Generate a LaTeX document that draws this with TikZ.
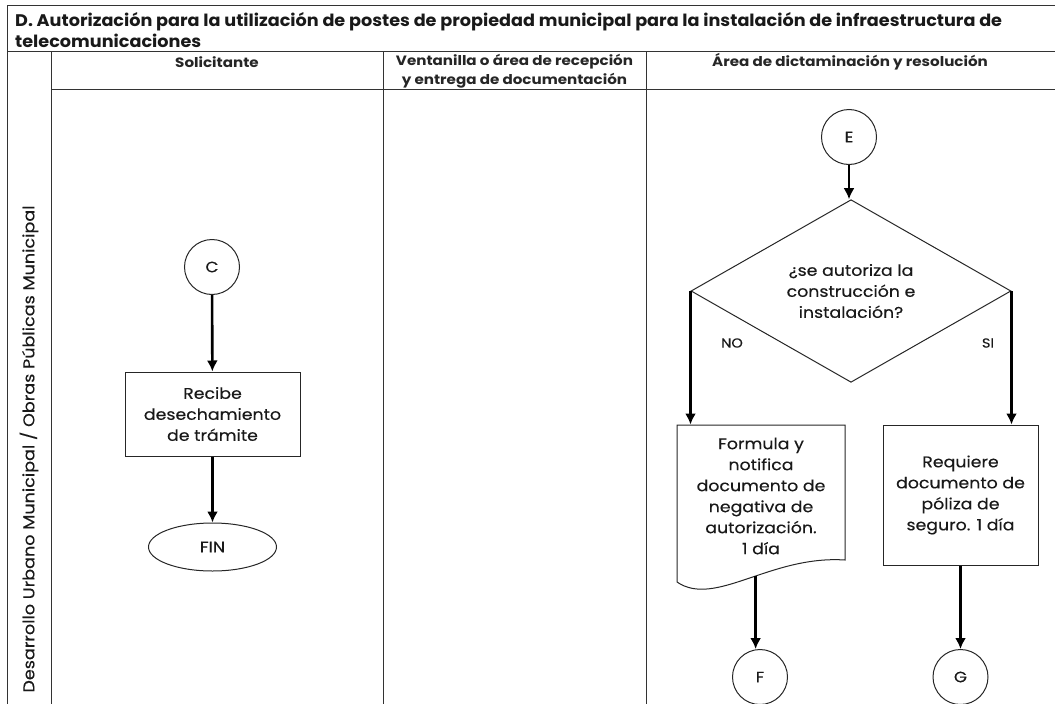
\documentclass[tikz,border=0pt]{standalone}
\usepackage{fontspec}
\setmainfont{Poppins}[FakeStretch=1.12]
\newfontfamily\bodyfont{Poppins}[FakeStretch=1.12, FakeBold=0.3]
\newfontfamily\ttlfont{Poppins}[FakeStretch=1.05]
\usetikzlibrary{shapes.geometric,arrows.meta}
\begin{document}
\begin{tikzpicture}[x=1pt,y=-1pt,
  frame/.style={draw=black!80, line width=1pt},
  shp/.style={draw=black!85, line width=1pt, text=black!90, font=\bodyfont\fontsize{15.5}{21}\selectfont, align=center, inner sep=0pt},
  conn/.style={draw=black!85, circle, line width=1pt, minimum size=55pt, inner sep=0pt, text=black!90, font=\bodyfont\fontsize{15}{17}\selectfont},
  arr/.style={line width=2.6pt, draw=black, -{Latex[length=11pt,width=11pt]}},
  hdr/.style={font=\bfseries\fontsize{13.5}{19}\selectfont, align=center, text=black!85, inner sep=0pt},
  lbl/.style={font=\bodyfont\fontsize{13}{15}\selectfont, text=black!90}
]
\useasboundingbox (0,0) rectangle (1055,704);
% frame
\draw[frame] (7,704) -- (7,5) -- (1055,5);
\draw[frame] (7,51) -- (1055,51);
\draw[frame] (51,51) -- (51,704);
\draw[frame] (51,89) -- (1055,89);
\draw[frame] (383,51) -- (383,704);
\draw[frame] (646,51) -- (646,704);
% title
\node[anchor=west, inner sep=0pt, font=\ttlfont\bfseries\fontsize{16.8}{20}\selectfont, text=black!90] (t1) at (15,22) {D. Autorización para la utilización de postes de propiedad municipal para la instalación de infraestructura de};
\node[anchor=west, inner sep=0pt, font=\ttlfont\bfseries\fontsize{16.8}{20}\selectfont, text=black!90] (t2) at (15,41) {telecomunicaciones};
% headers
\node[hdr] (h1) at (217,62) {Solicitante};
\node[hdr] (h2) at (514.5,71) {Ventanilla o área de recepción\\y entrega de documentación};
\node[hdr] (h3) at (850,62) {Área de dictaminación y resolución};
% left label
\node[rotate=90, font=\bodyfont\fontsize{15.7}{18}\selectfont, text=black!90, inner sep=0pt] (dept) at (29,449) {Desarrollo Urbano Municipal / Obras Públicas Municipal};
% lane 1
\node[conn] (C) at (212,267) {C};
\node[shp, minimum width=175pt, minimum height=84pt] (rec) at (212.5,414) {Recibe\\desechamiento\\de trámite};
\node[shp, ellipse, minimum width=128pt, minimum height=48pt] (fin) at (212.5,547) {FIN};
\draw[arr] (C) -- (rec);
\draw[arr] (rec) -- (fin);
% lane 3
\node[conn] (E) at (849,137) {E};
\node[shp, diamond, minimum width=320pt, minimum height=154pt] (dia) at (851,291) {¿se autoriza la\\construcción e\\instalación?};
\draw[arr] (E) -- (E |- dia.north);
\node[lbl] (no) at (732,343) {NO};
\node[lbl] (si) at (988,343) {SI};
\node[shp, draw=none, minimum width=168pt, minimum height=142pt] (doc) at (761,496) {Formula y\\notifica\\documento de\\negativa de\\autorización.\\1 día};
\draw[line width=1pt, draw=black!85] (677,582) -- (677,425) -- (845,425) -- (845,560)
  .. controls (770,555) and (715,608) .. (677,582) coordinate[pos=0.45] (docb);
\node[shp, minimum width=155pt, minimum height=140pt] (req) at (960.5,495) {Requiere\\documento de\\póliza de\\seguro. 1 día};
\draw[arr] (dia.west) -- (dia.west |- doc.north);
\draw[arr] (dia.east) -- (dia.east |- req.north);
\node[conn] (F) at (760,677) {F};
\node[conn] (G) at (960.5,677) {G};
\draw[arr] (docb) -- (docb |- F.north);
\draw[arr] (req) -- (G);
\end{tikzpicture}
\end{document}
